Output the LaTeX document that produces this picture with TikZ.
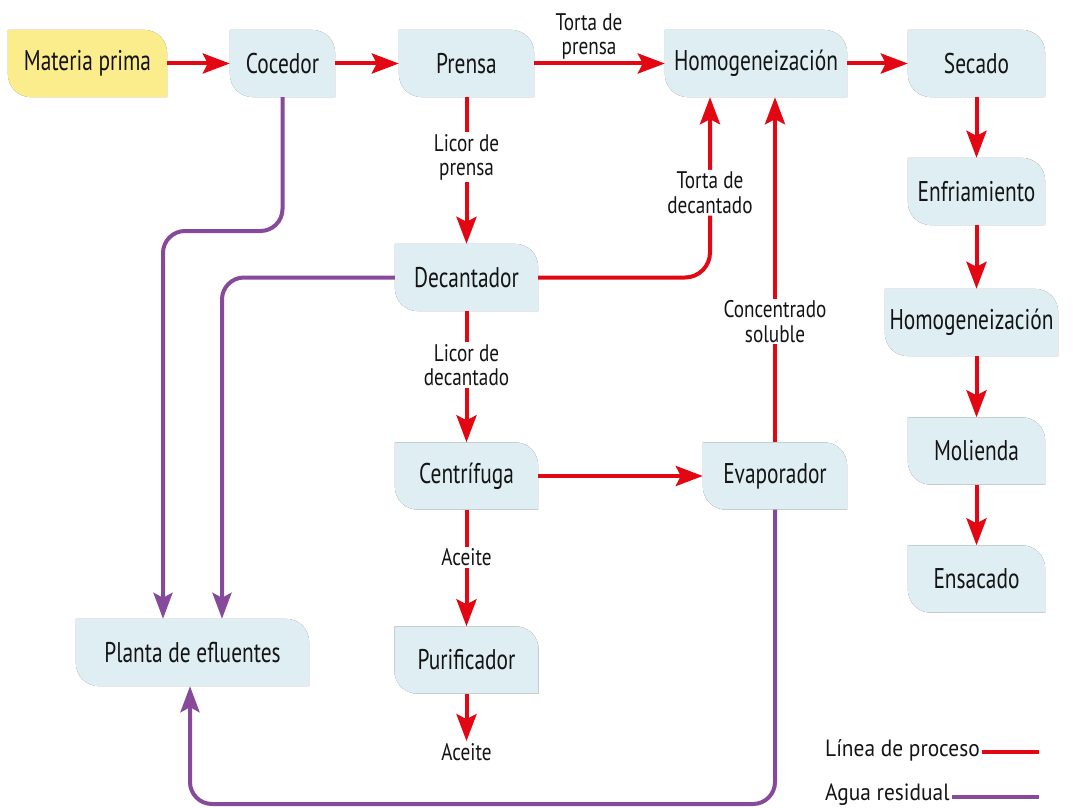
\documentclass[tikz,border=0pt]{standalone}
\usepackage{fontspec}
\setmainfont{PT Sans}
\newfontfamily\nodefont{PT Sans}[FakeStretch=0.75]
\newfontfamily\lblfont{PT Sans}[FakeStretch=0.80]
\newfontfamily\legfont{PT Sans}[FakeStretch=0.91]
\usetikzlibrary{arrows.meta,backgrounds,calc}
\definecolor{procred}{HTML}{E30613}
\definecolor{wastepurple}{HTML}{874A9B}
\definecolor{boxblue}{HTML}{DEEEF3}
\definecolor{boxyellow}{HTML}{FBEC8C}
\definecolor{ink}{HTML}{141414}
\tikzset{
  proc/.style={minimum height=67pt, inner sep=0pt, font=\nodefont\fontsize{28.5}{30}\selectfont, text=ink},
  lbl/.style={font=\lblfont\fontsize{24}{24.5}\selectfont, align=center, fill=white, inner sep=2pt, text=ink},
  leg/.style={font=\legfont\fontsize{23.5}{26}\selectfont, inner sep=2pt, text=ink},
  redline/.style={draw=procred, line width=4pt},
  redarrow/.style={redline, -{Stealth[length=27pt,width=20pt,inset=5pt]}},
  purpline/.style={draw=wastepurple, line width=4pt},
  purparrow/.style={purpline, -{Stealth[length=26pt,width=19pt,inset=5pt]}},
  boxshape/.style={insert path={(#1.north west) -- ([xshift=-24pt]#1.north east)
     .. controls ([xshift=-10pt]#1.north east) and ([yshift=-10pt]#1.north east) .. ([yshift=-24pt]#1.north east)
     -- (#1.south east) -- ([xshift=24pt]#1.south west)
     .. controls ([xshift=10pt]#1.south west) and ([yshift=10pt]#1.south west) .. ([yshift=24pt]#1.south west) -- cycle}},
}
\begin{document}
\begin{tikzpicture}[x=1pt,y=-1pt]
\useasboundingbox (0,0) rectangle (1073,808);
% process nodes
\node[proc, minimum width=159pt] (mp) at (87.5,63.5) {Materia prima};
\node[proc, minimum width=105pt] (coc) at (282.5,63.5) {Cocedor};
\node[proc, minimum width=135pt] (pren) at (466.5,63.5) {Prensa};
\node[proc, minimum width=182pt] (homo1) at (756,63.5) {Homogeneización};
\node[proc, minimum width=137pt] (sec) at (976.5,63.5) {Secado};
\node[proc, minimum width=137pt] (enf) at (976.5,191.5) {Enfriamiento};
\node[proc, minimum width=173pt] (homo2) at (971.5,322.5) {Homogeneización};
\node[proc, minimum width=137pt] (mol) at (976.5,451) {Molienda};
\node[proc, minimum width=137pt] (ens) at (976.5,579) {Ensacado};
\node[proc, minimum width=143pt] (dec) at (466.5,277.5) {Decantador};
\node[proc, minimum width=143pt] (cen) at (466.5,476) {Centrífuga};
\node[proc, minimum width=144pt] (pur) at (466.5,660) {Purificador};
\node[proc, minimum width=144pt] (eva) at (775,476) {Evaporador};
\node[proc, minimum width=233pt] (pla) at (192.5,652.5) {Planta de efluentes};
\node[lbl, fill=none] (ac2) at (466.5,752) {Aceite};
% box shapes and shadows
\begin{scope}[on background layer]
  \fill[white] (0,0) rectangle (1073,808);
  \foreach \n/\c in {mp/boxyellow,coc/boxblue,pren/boxblue,homo1/boxblue,sec/boxblue,enf/boxblue,homo2/boxblue,mol/boxblue,ens/boxblue,dec/boxblue,cen/boxblue,pur/boxblue,eva/boxblue,pla/boxblue}{
    \foreach \s in {2,...,9}{\fill[black,opacity=0.095,shift={(\s,\s)},boxshape=\n];}
    \fill[\c,boxshape=\n];
  }
\end{scope}
% process line
\draw[redarrow] (mp) -- (coc);
\draw[redarrow] (coc) -- (pren);
\draw[redarrow] (pren) -- node[lbl, fill=none, pos=0.42, above=0pt] (lt1) {Torta de\\prensa} (homo1);
\draw[redarrow] (homo1) -- (sec);
\draw[redarrow] (sec) -- (enf);
\draw[redarrow] (enf.south) -- (enf.south |- homo2.north);
\draw[redarrow] (homo2.south -| mol) -- (mol.north);
\draw[redarrow] (mol) -- (ens);
\draw[redarrow] (pren) -- node[lbl, pos=0.41] (l2) {Licor de\\prensa} (dec);
\coordinate (ht1) at ([xshift=-46pt]homo1.south);
\draw[redarrow, rounded corners=25pt] (dec.east) -- (ht1 |- dec.east) -- node[lbl, pos=0.47] (l3) {Torta de\\decantado} (ht1);
\draw[redarrow] (eva.north) -- node[lbl, pos=0.35] (l4) {Concentrado\\soluble} (eva.north |- homo1.south);
\draw[redarrow] (dec) -- node[lbl, pos=0.41] (l5) {Licor de\\decantado} (cen);
\draw[redarrow] (cen) -- (eva);
\draw[redarrow] (cen) -- node[lbl, pos=0.41] (l6) {Aceite} (pur);
\draw[redarrow] (pur) -- (ac2);
% waste water
\coordinate (p1) at (163,231);
\coordinate (p2) at (222,0);
\coordinate (p3) at (190,804);
\draw[purparrow, rounded corners=22pt] (coc.south) |- (p1) -- (p1 |- pla.north);
\draw[purparrow, rounded corners=22pt] (dec.west) -| (p2 |- pla.north);
\draw[purparrow, rounded corners=22pt] (eva.south) |- (p3) -- (p3 |- pla.south);
% legend
\node[leg, anchor=west] (lg1) at (823,750) {Línea de proceso};
\node[leg, anchor=west] (lg2) at (823,795) {Agua residual};
\coordinate (le1) at (1039,752);
\coordinate (le2) at (1039,797);
\draw[redline] (lg1.east |- le1) -- (le1);
\draw[purpline] (lg2.east |- le2) -- (le2);
\end{tikzpicture}
\end{document}
